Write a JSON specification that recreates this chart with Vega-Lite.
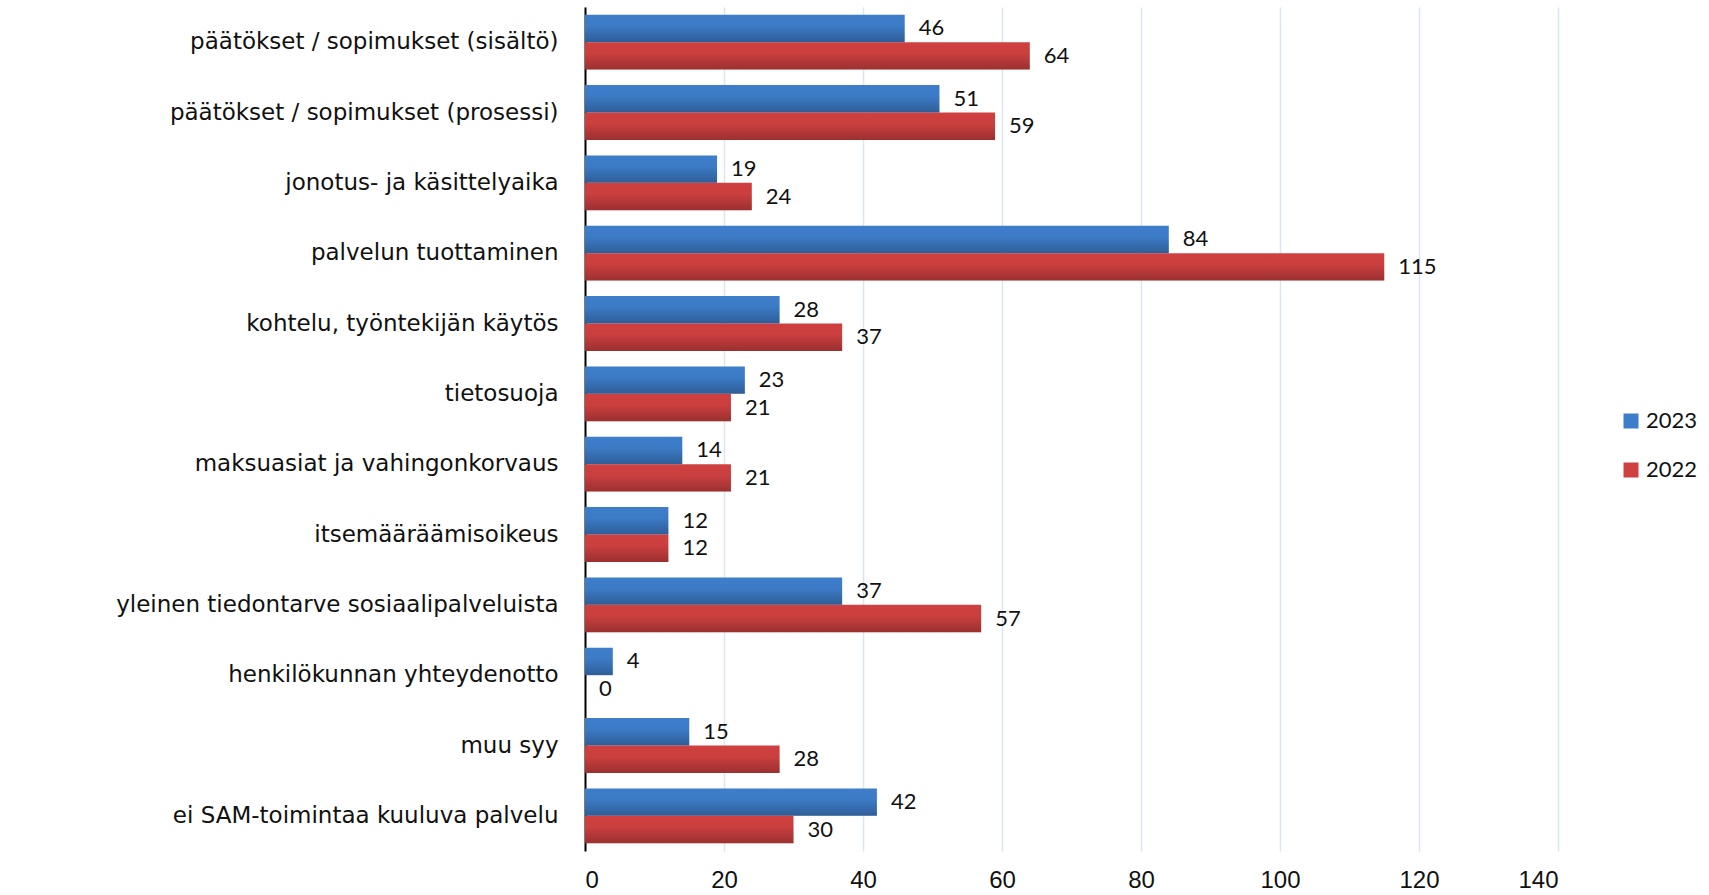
{
  "$schema": "https://vega.github.io/schema/vega-lite/v6.json",
  "width": 973,
  "height": 844,
  "autosize": {"type": "none"},
  "padding": {"left": 585, "top": 7, "right": 151, "bottom": 44},
  "background": "white",
  "config": {"view": {"stroke": null}},
  "data": {
    "values": [
      {"kategoria": "päätökset / sopimukset (sisältö)", "vuosi": "2023", "arvo": 46},
      {"kategoria": "päätökset / sopimukset (sisältö)", "vuosi": "2022", "arvo": 64},
      {"kategoria": "päätökset / sopimukset (prosessi)", "vuosi": "2023", "arvo": 51},
      {"kategoria": "päätökset / sopimukset (prosessi)", "vuosi": "2022", "arvo": 59},
      {"kategoria": "jonotus- ja käsittelyaika", "vuosi": "2023", "arvo": 19},
      {"kategoria": "jonotus- ja käsittelyaika", "vuosi": "2022", "arvo": 24},
      {"kategoria": "palvelun tuottaminen", "vuosi": "2023", "arvo": 84},
      {"kategoria": "palvelun tuottaminen", "vuosi": "2022", "arvo": 115},
      {"kategoria": "kohtelu, työntekijän käytös", "vuosi": "2023", "arvo": 28},
      {"kategoria": "kohtelu, työntekijän käytös", "vuosi": "2022", "arvo": 37},
      {"kategoria": "tietosuoja", "vuosi": "2023", "arvo": 23},
      {"kategoria": "tietosuoja", "vuosi": "2022", "arvo": 21},
      {"kategoria": "maksuasiat ja vahingonkorvaus", "vuosi": "2023", "arvo": 14},
      {"kategoria": "maksuasiat ja vahingonkorvaus", "vuosi": "2022", "arvo": 21},
      {"kategoria": "itsemääräämisoikeus", "vuosi": "2023", "arvo": 12},
      {"kategoria": "itsemääräämisoikeus", "vuosi": "2022", "arvo": 12},
      {"kategoria": "yleinen tiedontarve sosiaalipalveluista", "vuosi": "2023", "arvo": 37},
      {"kategoria": "yleinen tiedontarve sosiaalipalveluista", "vuosi": "2022", "arvo": 57},
      {"kategoria": "henkilökunnan yhteydenotto", "vuosi": "2023", "arvo": 4},
      {"kategoria": "henkilökunnan yhteydenotto", "vuosi": "2022", "arvo": 0},
      {"kategoria": "muu syy", "vuosi": "2023", "arvo": 15},
      {"kategoria": "muu syy", "vuosi": "2022", "arvo": 28},
      {"kategoria": "ei SAM-toimintaa kuuluva palvelu", "vuosi": "2023", "arvo": 42},
      {"kategoria": "ei SAM-toimintaa kuuluva palvelu", "vuosi": "2022", "arvo": 30}
    ]
  },
  "encoding": {
    "y": {
      "field": "kategoria",
      "type": "nominal",
      "sort": null,
      "scale": {"paddingInner": 0.22, "paddingOuter": 0.11},
      "axis": {
        "title": null,
        "ticks": false,
        "domainColor": "#000000",
        "domainWidth": 2,
        "labelPadding": 27,
        "labelFont": "DejaVu Sans",
        "labelFontSize": 23,
        "labelColor": "#111111",
        "labelLimit": 0
      }
    },
    "yOffset": {"field": "vuosi", "type": "nominal", "sort": ["2023", "2022"]},
    "x": {
      "field": "arvo",
      "type": "quantitative",
      "scale": {"domain": [0, 140], "nice": false},
      "axis": {
        "title": null,
        "domain": false,
        "ticks": false,
        "grid": true,
        "gridColor": "#DCE6F2",
        "gridWidth": 1.5,
        "values": [0, 20, 40, 60, 80, 100, 120, 140],
        "labelFont": "Liberation Sans",
        "labelFontSize": 24,
        "labelColor": "#111111",
        "labelPadding": 17
      }
    }
  },
  "layer": [
    {
      "mark": {"type": "bar"},
      "encoding": {
        "color": {
          "field": "vuosi",
          "type": "nominal",
          "sort": ["2023", "2022"],
          "scale": {"domain": ["2023", "2022"], "range": ["#3D7DCA", "#CF4040"]},
          "legend": {
            "title": null,
            "orient": "none",
            "legendX": 1035,
            "legendY": 403,
            "symbolType": "square",
            "symbolSize": 225,
            "symbolStrokeWidth": 0,
            "labelFont": "Lato",
            "labelFontSize": 22,
            "labelColor": "#111111",
            "labelOffset": 4,
            "rowPadding": 27
          }
        }
      }
    },
    {
      "mark": {
        "type": "bar",
        "color": {
          "gradient": "linear",
          "x1": 0, "y1": 0, "x2": 0, "y2": 1,
          "stops": [
            {"offset": 0, "color": "rgba(0,0,0,0)"},
            {"offset": 0.4, "color": "rgba(0,0,0,0.02)"},
            {"offset": 1, "color": "rgba(0,0,0,0.25)"}
          ]
        }
      }
    },
    {
      "mark": {"type": "text", "align": "left", "baseline": "middle", "dx": 14, "font": "Lato", "fontSize": 22, "color": "#111111"},
      "encoding": {"text": {"field": "arvo", "type": "quantitative"}}
    }
  ]
}
